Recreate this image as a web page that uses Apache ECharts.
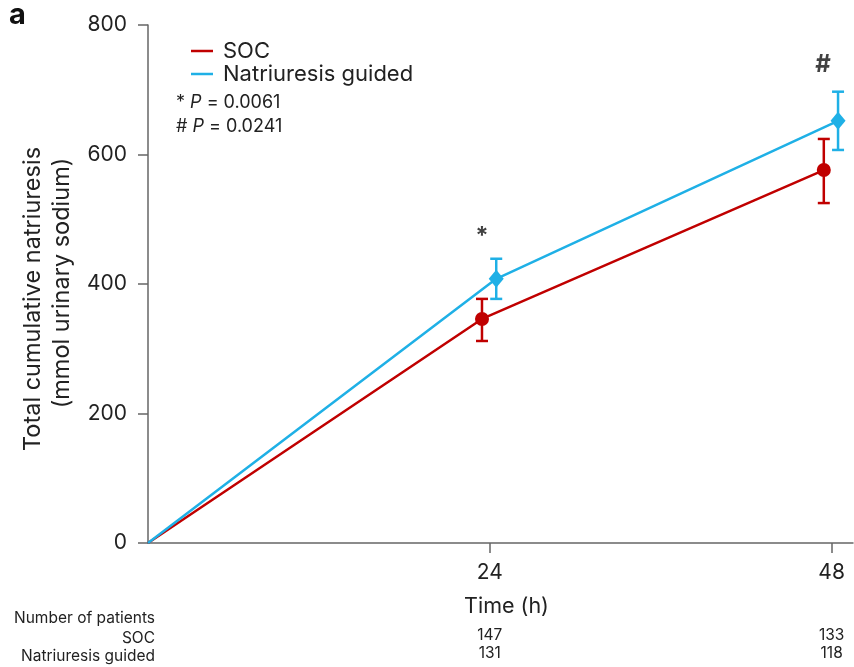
<!DOCTYPE html>
<html>
<head>
<meta charset="utf-8">
<script src="https://cdn.jsdelivr.net/npm/echarts@6/dist/echarts.min.js"></script>
<style>
  html, body { margin: 0; padding: 0; background: #fff; }
  #chart { width: 854px; height: 667px; }
</style>
</head>
<body>
<div id="chart"></div>
<script>
// 时间点 (h), 两组在 24/48 h 略微错开
const timePoints = [0, 24, 48]
const socX = [0, 23.45, 47.45]
const ngX = [0, 24.45, 48.45]
// 累计尿钠 (mmol)
const socMean = [0, 346, 576]
const socLow = [null, 312, 525]
const socHigh = [null, 377, 624]
const ngMean = [0, 408, 652]
const ngLow = [null, 377, 607]
const ngHigh = [null, 439, 697]
// 显著性标记
const sigMarks = [
  { x: 23.45, y: 473, text: '*' },
  { x: 47.4, y: 738, text: '#' }
]
// 患者人数
const socN = { 24: 147, 48: 133 }
const ngN = { 24: 131, 48: 118 }
const yTicks = [0, 200, 400, 600, 800]

const RED = '#c00000'
const BLUE = '#1fb0e6'
const FONT = 'Inter'
const TXT = '#222'

function errorBar (xs, lows, highs, color) {
  const data = []
  xs.forEach((x, i) => {
    if (lows[i] != null) data.push([x, lows[i], highs[i]])
  })
  return {
    type: 'custom',
    data: data,
    z: 3,
    renderItem (params, api) {
      const lo = api.coord([api.value(0), api.value(1)])
      const hi = api.coord([api.value(0), api.value(2)])
      const w = 6
      const style = { stroke: color, lineWidth: 2.5 }
      return {
        type: 'group',
        children: [
          { type: 'line', shape: { x1: lo[0], y1: lo[1], x2: hi[0], y2: hi[1] }, style },
          { type: 'line', shape: { x1: lo[0] - w, y1: lo[1], x2: lo[0] + w, y2: lo[1] }, style },
          { type: 'line', shape: { x1: hi[0] - w, y1: hi[1], x2: hi[0] + w, y2: hi[1] }, style }
        ]
      }
    }
  }
}

const chart = echarts.init(document.getElementById('chart'))

const option = {
  backgroundColor: '#fff',
  animation: false,
  textStyle: { fontFamily: FONT },
  grid: { left: 148, right: 1, top: 25, bottom: 124, containLabel: false, outerBoundsMode: 'none' },
  legend: {
    orient: 'vertical',
    left: 186,
    top: 35,
    icon: 'rect',
    itemWidth: 22,
    itemHeight: 2.5,
    itemGap: 1,
    data: ['SOC', 'Natriuresis guided'],
    textStyle: { fontFamily: FONT, fontSize: 22, color: TXT, padding: [0, 0, 0, 5] }
  },
  xAxis: {
    type: 'value',
    min: 0,
    max: 49.5,
    interval: 24,
    name: 'Time (h)',
    nameLocation: 'middle',
    nameGap: 53,
    nameMoveOverlap: false,
    nameTextStyle: { fontFamily: FONT, fontSize: 21.5, color: TXT, padding: [0, 0, 0, 12] },
    axisLine: { lineStyle: { color: '#666', width: 1.5 } },
    axisTick: { show: true, length: 10, lineStyle: { color: '#666', width: 1.5 } },
    splitLine: { show: false },
    axisLabel: {
      margin: 19,
      showMinLabel: false,
      formatter (v) {
        if (v === 0) return ''
        return '{t|' + v + '}\n{g|}\n{n|' + socN[v] + '}\n{n|' + ngN[v] + '}'
      },
      rich: {
        t: { fontFamily: FONT, fontSize: 21, color: TXT, lineHeight: 22 },
        g: { lineHeight: 42 },
        n: { fontFamily: FONT, fontSize: 15.5, color: TXT, lineHeight: 18 }
      }
    }
  },
  yAxis: {
    type: 'value',
    min: 0,
    max: 800,
    interval: 200,
    axisLine: { show: true, lineStyle: { color: '#666', width: 1.5 } },
    axisTick: { show: true, length: 10, lineStyle: { color: '#666', width: 1.5 } },
    splitLine: { show: false },
    axisLabel: {
      margin: 21,
      fontFamily: FONT,
      fontSize: 21,
      color: TXT,
      customValues: yTicks
    }
  },
  series: [
    {
      name: 'SOC',
      type: 'line',
      data: socX.map((x, i) => [x, socMean[i]]),
      color: RED,
      lineStyle: { width: 2.5 },
      symbol: 'circle',
      symbolSize: (v, p) => (p.dataIndex === 0 ? 0 : 14),
      itemStyle: { color: RED },
      z: 4
    },
    {
      name: 'Natriuresis guided',
      type: 'line',
      data: ngX.map((x, i) => [x, ngMean[i]]),
      color: BLUE,
      lineStyle: { width: 2.5 },
      symbol: 'diamond',
      symbolSize: (v, p) => (p.dataIndex === 0 ? 0 : [15, 18]),
      itemStyle: { color: BLUE },
      z: 4
    },
    errorBar(socX, socLow, socHigh, RED),
    errorBar(ngX, ngLow, ngHigh, BLUE),
    {
      type: 'scatter',
      symbolSize: 0,
      data: sigMarks.map(m => ({ value: [m.x, m.y], label: { formatter: m.text } })),
      label: {
        show: true,
        position: 'inside',
        fontFamily: FONT,
        fontSize: 24,
        fontWeight: 'bold',
        color: '#111'
      },
      silent: true
    }
  ],
  graphic: [
    {
      type: 'text', left: 9, top: 1,
      style: { text: 'a', fontFamily: FONT, fontSize: 29, fontWeight: 'bold', fill: '#111' }
    },
    {
      type: 'text', x: 33, y: 299, rotation: Math.PI / 2,
      style: {
        text: 'Total cumulative natriuresis', fontFamily: FONT, fontSize: 23.5, fill: TXT,
        align: 'center', verticalAlign: 'middle'
      }
    },
    {
      type: 'text', x: 62, y: 283, rotation: Math.PI / 2,
      style: {
        text: '(mmol urinary sodium)', fontFamily: FONT, fontSize: 23.5, fill: TXT,
        align: 'center', verticalAlign: 'middle'
      }
    },
    {
      type: 'text', left: 176, top: 91,
      style: {
        text: '* {i|P} = 0.0061\n# {i|P} = 0.0241',
        fontFamily: FONT, fontSize: 18, fill: TXT, lineHeight: 24,
        rich: { i: { fontStyle: 'italic', fontFamily: FONT, fontSize: 18, fill: TXT } }
      }
    },
    {
      type: 'text', x: 155, y: 618,
      style: { text: 'Number of patients', align: 'right', verticalAlign: 'middle', fontFamily: FONT, fontSize: 15.5, fill: TXT }
    },
    {
      type: 'text', x: 155, y: 638,
      style: { text: 'SOC', align: 'right', verticalAlign: 'middle', fontFamily: FONT, fontSize: 15.5, fill: TXT }
    },
    {
      type: 'text', x: 155, y: 656,
      style: { text: 'Natriuresis guided', align: 'right', verticalAlign: 'middle', fontFamily: FONT, fontSize: 15.5, fill: TXT }
    }
  ]
}

chart.setOption(option)
</script>
</body>
</html>
